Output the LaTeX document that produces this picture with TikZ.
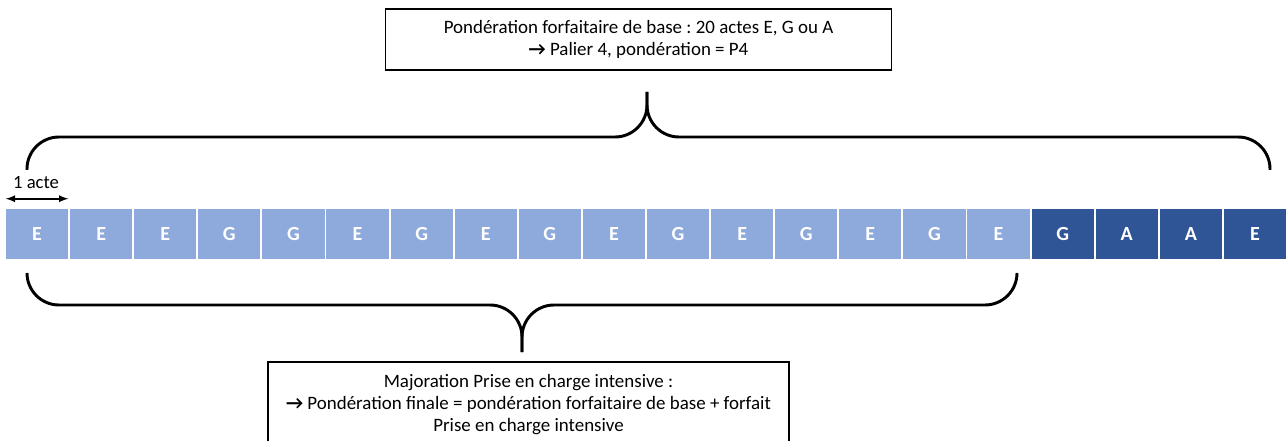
\documentclass[tikz,border=0pt]{standalone}
\usepackage{fontspec}
\setmainfont{Carlito}
\usetikzlibrary{arrows,calc}
\frenchspacing

\definecolor{celclair}{RGB}{142,169,219}
\definecolor{celfonce}{RGB}{47,85,151}

\begin{document}
\begin{tikzpicture}[x=0.75pt,y=-0.75pt]

\tikzset{
    acte/.style={rectangle,inner sep=0pt,minimum width=46.6pt,minimum height=37.5pt,
        font=\fontsize{15}{18}\selectfont\bfseries,text=white},
    clair/.style={acte,fill=celclair},
    fonce/.style={acte,fill=celfonce},
    accolade/.style={line width=2.2pt,rounded corners=24pt},
    cadre/.style={draw,line width=1.1pt,align=center,inner sep=0pt,
        font=\fontsize{14.2}{16.5}\selectfont}}

\useasboundingbox (0,0) rectangle (1287,441);
\clip (0,0) rectangle (1287,441);

% les 20 actes
\node[clair] (C1) at (37.05,234) {E};
\node[clair] (C2) at (101.15,234) {E};
\node[clair] (C3) at (165.25,234) {E};
\node[clair] (C4) at (229.35,234) {G};
\node[clair] (C5) at (293.45,234) {G};
\node[clair] (C6) at (357.55,234) {E};
\node[clair] (C7) at (421.65,234) {G};
\node[clair] (C8) at (485.75,234) {E};
\node[clair] (C9) at (549.85,234) {G};
\node[clair] (C10) at (613.95,234) {E};
\node[clair] (C11) at (678.05,234) {G};
\node[clair] (C12) at (742.15,234) {E};
\node[clair] (C13) at (806.25,234) {G};
\node[clair] (C14) at (870.35,234) {E};
\node[clair] (C15) at (934.45,234) {G};
\node[clair] (C16) at (998.55,234) {E};
\node[fonce] (C17) at (1062.65,234) {G};
\node[fonce] (C18) at (1126.75,234) {A};
\node[fonce] (C19) at (1190.85,234) {A};
\node[fonce] (C20) at (1254.95,234) {E};

% 1 acte
\coordinate (U1) at ($(C1.north west)+(0,-10)$);
\coordinate (U2) at ($(C1.north east)+(0,-10)$);
\draw[latex-latex, line width=1.4pt] (U1) -- (U2);
\node[font=\fontsize{14}{16}\selectfont] (U) at (36,183) {1 acte};

% cadres
\node[cadre, minimum width=379.5pt, minimum height=45.75pt] (Base) at (638.5,39.5)
    {Pondération forfaitaire de base : 20 actes E, G ou A\\
     \textbf{→} Palier 4, pondération = P4};
\node[cadre, minimum width=390.75pt, minimum height=64.5pt] (Maj) at (528.5,405)
    {Majoration Prise en charge intensive :\\
     \textbf{→} Pondération finale = pondération forfaitaire de base + forfait\\
     Prise en charge intensive};

% accolades
\coordinate (H1) at (27,170);
\coordinate (H2) at (1270,170);
\coordinate (HP) at (647,92);
\coordinate (B1) at (27,273);
\coordinate (B2) at (1017,273);
\coordinate (BP) at (522,352);

\draw[accolade] (H1) |- (647,137) -- (HP);
\draw[accolade] (HP) -- (647,137) -| (H2);
\draw[accolade] (B1) |- (522,305) -- (BP);
\draw[accolade] (BP) -- (522,305) -| (B2);

\end{tikzpicture}
\end{document}
